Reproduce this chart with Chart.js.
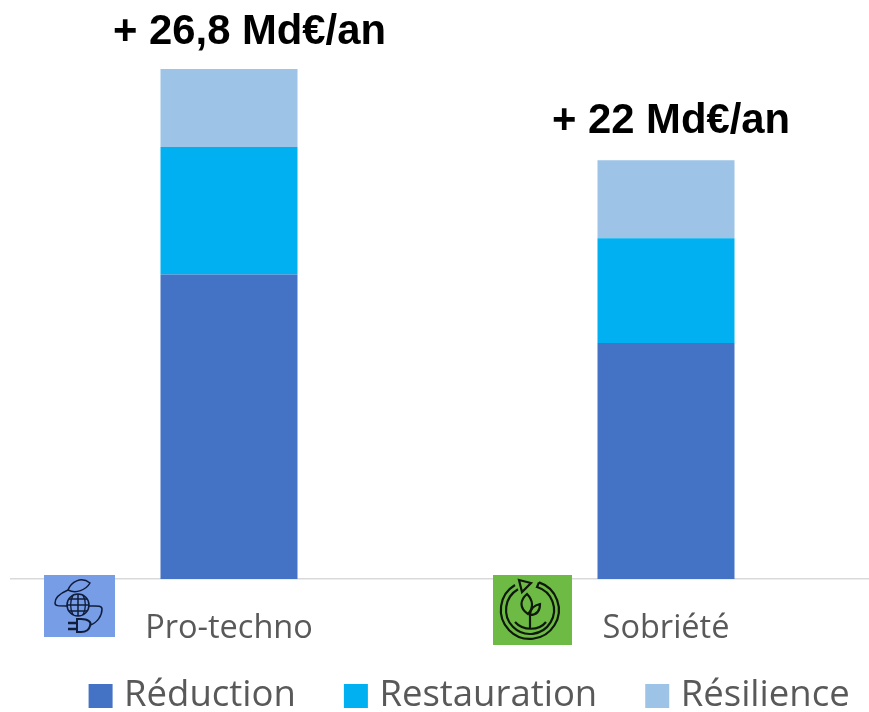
<!DOCTYPE html>
<html>
<head>
<meta charset="utf-8">
<style>
  html, body { margin: 0; padding: 0; background: #fff; overflow: hidden; }
  #wrap { position: relative; width: 869px; height: 712px; overflow: hidden; }
  #wrap canvas { position: absolute; left: 0; top: 0; }
  svg.icon { position: absolute; }
</style>
</head>
<body>
<div id="wrap">
  <canvas id="myChart" width="936" height="712" style="width:936px;height:712px"></canvas>

  <svg class="icon" style="left:44px;top:575px" width="71" height="62" viewBox="0 0 71 62" fill="none" stroke="#0f1c3a" stroke-width="1.5">
    <rect width="71" height="62" fill="#779de6" stroke="none"/>
    <path d="M24 15C27 7 37 1 46 8C42 15 32 19 24 15Z"/>
    <path d="M24 15C17 18 11 23 11 28C11 31 14 31 23 31"/>
    <circle cx="34" cy="30" r="11"/>
    <path d="M23 30H45M25 24H43M25 36H43M34 19V41M29 20C26 26 26 34 29 40M39 20C42 26 42 34 39 40"/>
    <path d="M45 31C52 31 58 30 58 34C58 41 53 48 46 50"/>
    <path d="M33 44H37C44 44 48 47 46 51C45 55 42 57 37 57H33Z" stroke-width="2"/>
    <path d="M24 48H33M24 54H33" stroke-width="2.4"/>
  </svg>

  <svg class="icon" style="left:493px;top:575px" width="79" height="70" viewBox="0 0 79 70" fill="none" stroke="#10180c" stroke-width="2.2">
    <rect width="79" height="70" fill="#6dbb45" stroke="none"/>
    <path d="M46 7.4A29 29 0 1 1 22 10"/>
    <path d="M46 7.4L44 12A24 24 0 1 1 25 14.2"/>
    <path d="M26 5L38 8L29 17Z"/>
    <path d="M22 47C30 56 46 56 53 47"/>
    <path d="M37 54V37"/>
    <path d="M34 19C27 25 26 33 35 39C41 33 40 25 34 19Z"/>
    <path d="M37 39C38 32 42 30 47 29C47 36 44 40 37 40Z"/>
  </svg>
</div>

<script src="https://cdnjs.cloudflare.com/ajax/libs/Chart.js/4.4.1/chart.umd.min.js"></script>

<script>
  const labels = ['Pro-techno', 'Sobriété'];
  const reduction = [16.0, 12.4];
  const restauration = [6.7, 5.5];
  const resilience = [4.1, 4.1];
  const totalLabels = ['+ 26,8 Md€/an', '+ 22 Md€/an'];

  // totals above the bars, anchored on the top segment
  const totalsPlugin = {
    id: 'totals',
    afterDatasetsDraw(chart) {
      const ctx = chart.ctx;
      const bars = chart.getDatasetMeta(2).data;
      const shifts = [[20.5, -36], [5, -39]];
      ctx.save();
      ctx.font = 'bold 41.8px "Liberation Sans"';
      ctx.fillStyle = '#000';
      ctx.textAlign = 'center';
      ctx.textBaseline = 'middle';
      bars.forEach(function (bar, i) {
        ctx.fillText(totalLabels[i], bar.x + shifts[i][0], bar.y + shifts[i][1]);
      });
      ctx.restore();
    }
  };

  // the legend padding option also adds height, so reserve less room and move it by hand
  const legendFix = {
    id: 'legendFix',
    beforeInit(chart) {
      const fit = chart.legend.fit;
      chart.legend.fit = function () {
        fit.call(this);
        this.height = 42;
      };
    },
    afterLayout(chart) {
      chart.legend.left += 25;
      chart.legend.right += 25;
      chart.legend.top = 623;
    }
  };

  const myChart = new Chart(document.getElementById('myChart').getContext('2d'), {
    type: 'bar',
    data: {
      labels: labels,
      datasets: [
        { label: 'Réduction', data: reduction, backgroundColor: '#4472c4' },
        { label: 'Restauration', data: restauration, backgroundColor: '#00b0f0' },
        { label: 'Résilience', data: resilience, backgroundColor: '#9dc3e6' }
      ]
    },
    options: {
      responsive: false,
      animation: false,
      layout: { padding: { left: 10.5, right: 51.5, top: 8, bottom: 0 } },
      datasets: { bar: { categoryPercentage: 1, barPercentage: 0.3135 } },
      scales: {
        x: {
          stacked: true,
          grid: { display: false },
          border: { color: '#d9d9d9', width: 1.5 },
          ticks: {
            color: '#595959',
            padding: 22,
            maxRotation: 0,
            font: { family: '"Open Sans"', size: 32.5 }
          }
        },
        y: {
          stacked: true,
          display: false,
          min: 0,
          max: 30
        }
      },
      plugins: {
        tooltip: { enabled: false },
        legend: {
          position: 'bottom',
          labels: {
            // thin box + wide same-colour border: gives a 24px square with the text close to it
            boxWidth: 10.5,
            boxHeight: 10.5,
            padding: 54.75,
            color: '#595959',
            font: { family: '"Open Sans"', size: 36.5 },
            generateLabels(chart) {
              return Chart.defaults.plugins.legend.labels.generateLabels(chart).map(function (item) {
                item.strokeStyle = item.fillStyle;
                item.lineWidth = 13.5;
                return item;
              });
            }
          }
        }
      }
    },
    plugins: [totalsPlugin, legendFix]
  });
</script>
</body>
</html>
